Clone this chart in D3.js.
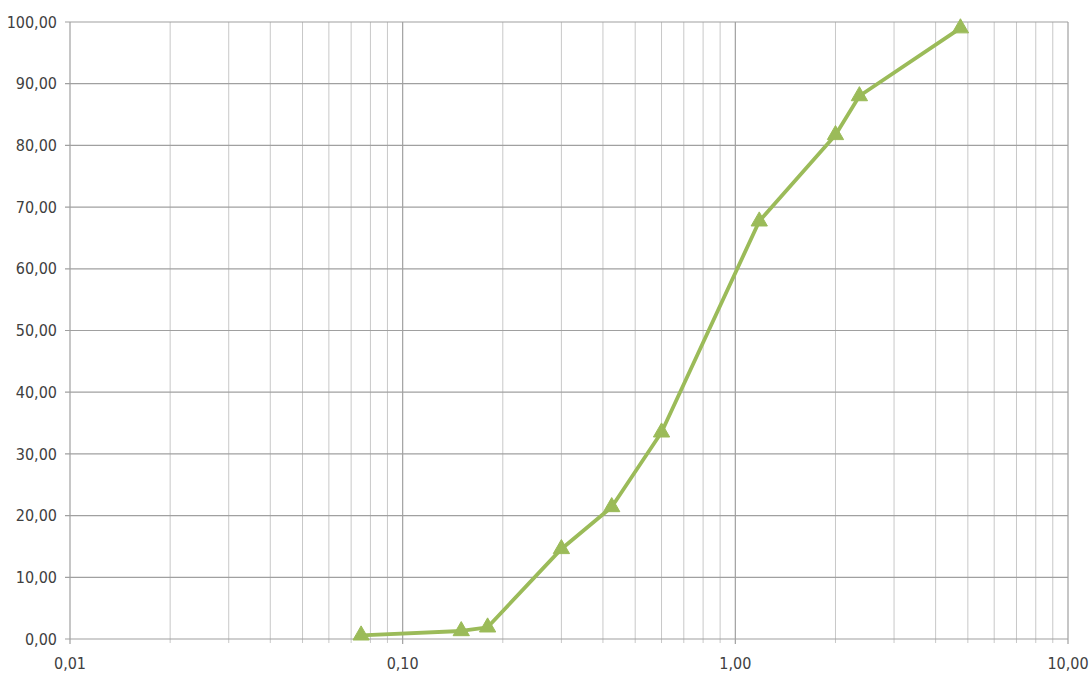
<!DOCTYPE html>
<html>
<head>
<meta charset="utf-8">
<script src="https://cdn.jsdelivr.net/npm/d3@7"></script>
<style>
  html, body { margin: 0; padding: 0; background: #fff; }
  svg text { font-family: "DejaVu Sans Condensed", "Liberation Sans Narrow", "Open Sans", sans-serif; font-stretch: condensed; fill: #404040; }
</style>
</head>
<body>
<svg id="chart" width="1091" height="675"></svg>
<script>
// Grain size (mm) and cumulative percent passing
const sizes   = [0.075, 0.15, 0.18, 0.30, 0.425, 0.60, 1.18, 2.00, 2.36, 4.75];
const passing = [0.6, 1.3, 1.9, 14.6, 21.4, 33.5, 67.7, 81.7, 88.0, 99.0];
const xTickValues = [0.01, 0.1, 1, 10];
const xTickLabels = ["0,01", "0,10", "1,00", "10,00"];
const yTickValues = [0, 10, 20, 30, 40, 50, 60, 70, 80, 90, 100];

const svg = d3.select("#chart");
const margin = { left: 70, right: 23, top: 22, bottom: 36 };
const W = 1091, H = 675;

const x = d3.scaleLog().domain([0.01, 10]).range([margin.left, W - margin.right]);
const y = d3.scaleLinear().domain([0, 100]).range([H - margin.bottom, margin.top]);

const fmtY = v => v.toFixed(2).replace(".", ",");

// minor log positions (2..9 in each decade)
const minor = [];
for (let d = 0.01; d < 10; d *= 10) {
  for (let k = 2; k <= 9; k++) minor.push(+(d * k).toPrecision(3));
}

const g = svg.append("g");

// vertical minor grid
g.selectAll(".vminor").data(minor).enter().append("line")
  .attr("x1", d => x(d)).attr("x2", d => x(d))
  .attr("y1", y(100)).attr("y2", y(0) + 4)
  .attr("stroke", "#c8c8c8").attr("stroke-width", 1);

// vertical major grid
g.selectAll(".vmajor").data(xTickValues).enter().append("line")
  .attr("x1", d => x(d)).attr("x2", d => x(d))
  .attr("y1", y(100)).attr("y2", y(0) + 5)
  .attr("stroke", "#a0a0a0").attr("stroke-width", 1.2);

// horizontal grid
g.selectAll(".hgrid").data(yTickValues).enter().append("line")
  .attr("x1", x(0.01) - 5).attr("x2", x(10))
  .attr("y1", d => y(d)).attr("y2", d => y(d))
  .attr("stroke", "#a0a0a0").attr("stroke-width", 1.2);

// y labels
g.selectAll(".ylab").data(yTickValues).enter().append("text")
  .attr("x", x(0.01) - 13).attr("y", d => y(d))
  .attr("dy", "0.35em").attr("text-anchor", "end")
  .attr("font-size", 16)
  .text(fmtY);

// x labels
g.selectAll(".xlab").data(xTickValues).enter().append("text")
  .attr("x", d => x(d)).attr("y", y(0) + 30)
  .attr("text-anchor", "middle")
  .attr("font-size", 16)
  .text((d, i) => xTickLabels[i]);

// gradation line
const pts = sizes.map((s, i) => [s, passing[i]]);
const line = d3.line()
  .x(d => x(d[0])).y(d => y(d[1]));

g.append("path").datum(pts)
  .attr("d", line)
  .attr("fill", "none")
  .attr("stroke", "#9bbb59")
  .attr("stroke-width", 3.8)
  .attr("stroke-linejoin", "round");

// triangle markers
const tri = d3.symbol().type(d3.symbolTriangle).size(115);
g.selectAll(".mk").data(pts).enter().append("path")
  .attr("d", tri)
  .attr("transform", d => `translate(${x(d[0])},${y(d[1])})`)
  .attr("fill", "#9bbb59")
  .attr("stroke", "#9bbb59")
  .attr("stroke-width", 1);
</script>
</body>
</html>
